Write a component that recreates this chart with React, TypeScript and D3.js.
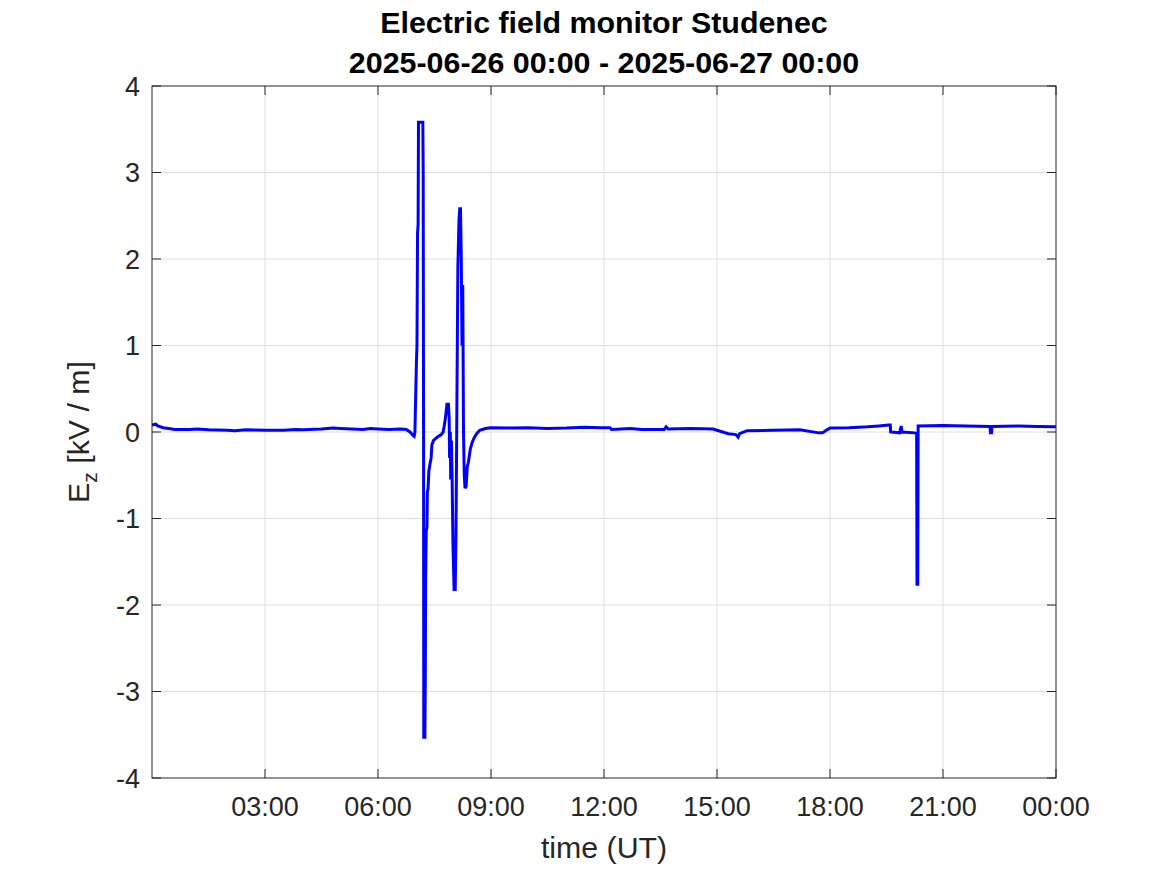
import React from "react";
import * as d3 from "d3";

const titleLines = ["Electric field monitor Studenec", "2025-06-26 00:00 - 2025-06-27 00:00"];
const xTickHours = [3, 6, 9, 12, 15, 18, 21, 24];
const xTickLabels = ["03:00", "06:00", "09:00", "12:00", "15:00", "18:00", "21:00", "00:00"];
const yTicks = [-4, -3, -2, -1, 0, 1, 2, 3, 4];

// time in hours (UT) since 2025-06-26 00:00
const timeHours = [
  // quiet morning (29)
  0, 0.1, 0.15, 0.3, 0.45, 0.6, 1.0, 1.2, 1.5, 2.0, 2.2, 2.5, 3.0, 3.5, 3.8, 4.0, 4.5, 4.8, 5.0, 5.3, 5.6, 5.8, 6.0, 6.3,
  6.6, 6.75, 6.85, 6.93, 6.96,
  // first disturbance (31)
  6.98, 7.0, 7.02, 7.035, 7.05, 7.065, 7.075, 7.19, 7.2, 7.21, 7.215, 7.245, 7.255, 7.265, 7.28, 7.3, 7.31, 7.33, 7.35,
  7.38, 7.41, 7.43, 7.47, 7.52, 7.6, 7.68, 7.73, 7.77, 7.8, 7.83, 7.87,
  // second disturbance (31)
  7.89, 7.9, 7.92, 7.93, 7.95, 7.97, 7.99, 8.02, 8.05, 8.07, 8.09, 8.12, 8.15, 8.17, 8.19, 8.21, 8.23, 8.25, 8.27, 8.29,
  8.31, 8.34, 8.37, 8.4, 8.45, 8.5, 8.56, 8.62, 8.7, 8.85, 9.0,
  // rest of the day (50)
  9.5, 10.0, 10.5, 11.0, 11.5, 11.9, 12.16, 12.2, 12.7, 13.0, 13.6, 13.65, 13.7, 14.3, 14.9, 15.0, 15.3, 15.5, 15.56, 15.6,
  15.8, 16.5, 17.2, 17.7, 17.8, 17.9, 18.0, 18.5, 19.0, 19.3, 19.55, 19.6, 19.61, 19.85, 19.89, 19.91, 20.25, 20.3,
  20.31, 20.33, 20.34, 21.0, 21.6, 22.25, 22.26, 22.29, 22.3, 23.0, 23.5, 24.0,
];
// vertical electric field Ez [kV/m]
const ezValues = [
  // quiet morning (29)
  0.08, 0.09, 0.07, 0.05, 0.04, 0.03, 0.03, 0.035, 0.025, 0.02, 0.015, 0.025, 0.02, 0.02, 0.03, 0.025, 0.035, 0.045, 0.04,
  0.035, 0.03, 0.04, 0.035, 0.03, 0.035, 0.03, 0.0, -0.04, -0.05,
  // first disturbance (31)
  0.0, 0.4, 0.8, 1.0, 2.3, 2.4, 3.58, 3.58, 2.97, 0.0, -3.53, -3.53, -2.9, -1.7, -1.15, -1.1, -0.7, -0.65, -0.45,
  -0.37, -0.3, -0.15, -0.1, -0.08, -0.05, -0.03, 0.0, 0.1, 0.2, 0.32, 0.32,
  // second disturbance (31)
  0.15, -0.3, 0.0, -0.55, -0.1, -0.6, -1.3, -1.82, -1.82, -1.2, 0.0, 1.9, 2.45, 2.58, 2.58, 2.05, 1.0, 1.7, 0.0, -0.5,
  -0.65, -0.63, -0.4, -0.35, -0.2, -0.12, -0.06, -0.02, 0.02, 0.04, 0.05,
  // rest of the day (50)
  0.045, 0.05, 0.04, 0.045, 0.055, 0.05, 0.05, 0.03, 0.04, 0.03, 0.03, 0.06, 0.035, 0.04, 0.035, 0.02, -0.02, -0.03, -0.06,
  -0.02, 0.015, 0.02, 0.025, -0.01, -0.01, 0.02, 0.045, 0.05, 0.06, 0.07, 0.08, 0.08, 0.0, -0.01, 0.07, 0.0, -0.01, -0.02,
  -1.76, -1.76, 0.07, 0.075, 0.07, 0.065, -0.01, -0.01, 0.065, 0.07, 0.065, 0.06,
];

const W = 1167;
const H = 875;
const margin = { left: 152, right: 1056, top: 86, bottom: 778 };
const axisColor = "#262626";
const gridColor = "#dfdfdf";
const font = "'Liberation Sans', Arial, Helvetica, sans-serif";

export default function App() {
  const x = d3.scaleLinear().domain([0, 24]).range([margin.left, margin.right]);
  const y = d3.scaleLinear().domain([-4, 4]).range([margin.bottom, margin.top]);
  const n = Math.min(timeHours.length, ezValues.length);
  const points: [number, number][] = timeHours.slice(0, n).map((t, i) => [t, ezValues[i]]);
  const line = d3
    .line<[number, number]>()
    .x((d) => x(d[0]))
    .y((d) => y(d[1]));
  const tickLen = 9;
  const midX = (margin.left + margin.right) / 2;
  const midY = (margin.top + margin.bottom) / 2;

  return (
    <svg width={W} height={H} style={{ display: "block", position: "absolute", left: 0, top: 0, background: "#fff" }}>
      <rect x={0} y={0} width={W} height={H} fill="#fff" />
      {/* grid */}
      {xTickHours.filter((h) => h < 24).map((h) => (
        <line key={"gx" + h} x1={x(h)} x2={x(h)} y1={margin.top} y2={margin.bottom} stroke={gridColor} strokeWidth={1} />
      ))}
      {yTicks.filter((v) => v > -4 && v < 4).map((v) => (
        <line key={"gy" + v} x1={margin.left} x2={margin.right} y1={y(v)} y2={y(v)} stroke={gridColor} strokeWidth={1} />
      ))}
      {/* data */}
      <path d={line(points) || ""} fill="none" stroke="#0000ff" strokeWidth={3} strokeLinejoin="miter" strokeMiterlimit={2} />
      {/* box */}
      <rect
        x={margin.left}
        y={margin.top}
        width={margin.right - margin.left}
        height={margin.bottom - margin.top}
        fill="none"
        stroke={axisColor}
        strokeWidth={1}
      />
      {/* ticks */}
      {xTickHours.map((h) => (
        <g key={"tx" + h}>
          <line x1={x(h)} x2={x(h)} y1={margin.bottom} y2={margin.bottom - tickLen} stroke={axisColor} />
          <line x1={x(h)} x2={x(h)} y1={margin.top} y2={margin.top + tickLen} stroke={axisColor} />
        </g>
      ))}
      {yTicks.map((v) => (
        <g key={"ty" + v}>
          <line x1={margin.left} x2={margin.left + tickLen} y1={y(v)} y2={y(v)} stroke={axisColor} />
          <line x1={margin.right} x2={margin.right - tickLen} y1={y(v)} y2={y(v)} stroke={axisColor} />
        </g>
      ))}
      {/* tick labels */}
      {xTickHours.map((h, i) => (
        <text key={"lx" + h} x={x(h)} y={816} textAnchor="middle" fontFamily={font} fontSize={27} fill={axisColor}>
          {xTickLabels[i]}
        </text>
      ))}
      {yTicks.map((v) => (
        <text key={"ly" + v} x={140} y={y(v) + 9.5} textAnchor="end" fontFamily={font} fontSize={27} fill={axisColor}>
          {String(v)}
        </text>
      ))}
      {/* axis labels */}
      <text x={midX} y={858} textAnchor="middle" fontFamily={font} fontSize={30.3} fill={axisColor}>
        time (UT)
      </text>
      <text transform={`translate(89,${midY}) rotate(-90)`} textAnchor="middle" fontFamily={font} fontSize={30.3} fill={axisColor}>
        E
        <tspan fontSize={21} dy={8}>z</tspan>
        <tspan dy={-8}> [kV / m]</tspan>
      </text>
      {/* title */}
      <text x={midX} y={33} textAnchor="middle" fontFamily={font} fontSize={30.4} fontWeight="bold" fill="#000">
        {titleLines[0]}
      </text>
      <text x={midX} y={73} textAnchor="middle" fontFamily={font} fontSize={30.4} fontWeight="bold" fill="#000">
        {titleLines[1]}
      </text>
    </svg>
  );
}
